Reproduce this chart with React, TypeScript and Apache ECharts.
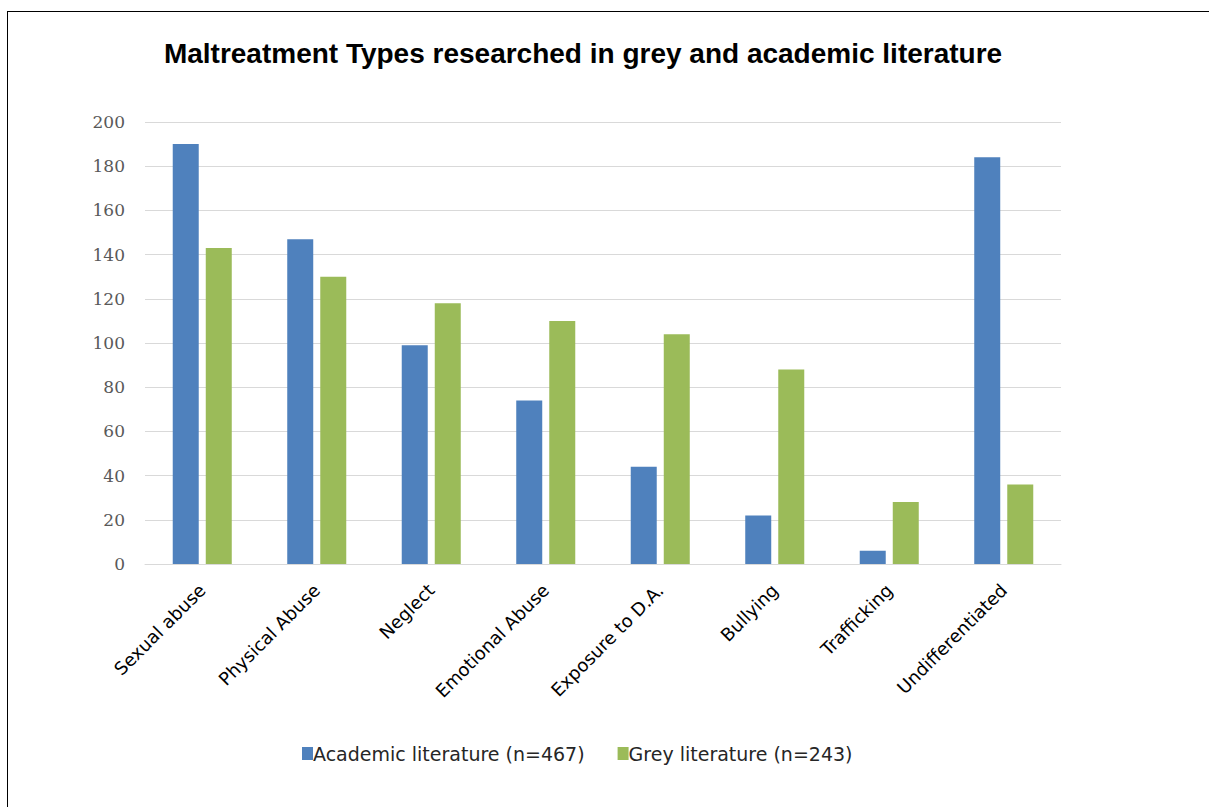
import React, { useEffect, useRef } from "react";
import * as echarts from "echarts";

const categories = [
  "Sexual abuse",
  "Physical Abuse",
  "Neglect",
  "Emotional Abuse",
  "Exposure to D.A.",
  "Bullying",
  "Trafficking",
  "Undifferentiated",
];
const academic = [190, 147, 99, 74, 44, 22, 6, 184];
const grey = [143, 130, 118, 110, 104, 88, 28, 36];
const seriesNames = ["Academic literature (n=467)", "Grey literature (n=243)"];
const titleText = "Maltreatment Types researched in grey and academic literature";

export default function App() {
  const ref = useRef<HTMLDivElement>(null);
  useEffect(() => {
    if (!ref.current) return;
    const chart = echarts.init(ref.current, null, { renderer: "svg" });
    chart.setOption({
      animation: false,
      backgroundColor: "#ffffff",
      title: {
        text: titleText,
        left: 578,
        textAlign: "center",
        top: 34,
        textStyle: {
          fontFamily: "Liberation Sans",
          fontWeight: "bold",
          fontSize: 28,
          color: "#000000",
        },
      },
      legend: {
        top: 739,
        left: 297,
        itemWidth: 11,
        itemHeight: 13,
        itemGap: 33,
        icon: "rect",
        textStyle: {
          fontFamily: "DejaVu Sans",
          fontSize: 19,
          color: "#262626",
          padding: [0, 0, 0, -5],
        },
        data: seriesNames,
      },
      graphic: [
        { type: "line", shape: { x1: 7, y1: 11.5, x2: 1209, y2: 11.5 }, style: { stroke: "#000", lineWidth: 1 } },
        { type: "line", shape: { x1: 7.5, y1: 11, x2: 7.5, y2: 807 }, style: { stroke: "#000", lineWidth: 1 } },
      ],
      grid: { left: 145, right: 148, top: 122, bottom: 243, containLabel: false },
      xAxis: {
        type: "category",
        data: categories,
        axisLine: { lineStyle: { color: "#d9d9d9" } },
        axisTick: { show: false },
        axisLabel: {
          rotate: 45,
          interval: 0,
          fontFamily: "DejaVu Sans",
          fontSize: 18,
          color: "#000000",
          margin: 23,
        },
      },
      yAxis: {
        type: "value",
        min: 0,
        max: 200,
        interval: 20,
        axisLine: { show: false },
        axisTick: { show: false },
        splitLine: { lineStyle: { color: "#d9d9d9", width: 1 } },
        axisLabel: {
          fontFamily: "DejaVu Serif",
          fontSize: 17,
          color: "#595959",
          margin: 20,
        },
      },
      series: [
        {
          name: seriesNames[0],
          type: "bar",
          data: academic,
          barWidth: 26,
          barGap: "27%",
          itemStyle: { color: "#4f81bd" },
        },
        {
          name: seriesNames[1],
          type: "bar",
          data: grey,
          barWidth: 26,
          itemStyle: { color: "#9bbb59" },
        },
      ],
    });
    return () => chart.dispose();
  }, []);
  return (
    <div style={{ position: "fixed", left: 0, top: 0, width: 1209, height: 807, background: "#fff" }}>
      <div ref={ref} style={{ width: 1209, height: 807 }} />
    </div>
  );
}
